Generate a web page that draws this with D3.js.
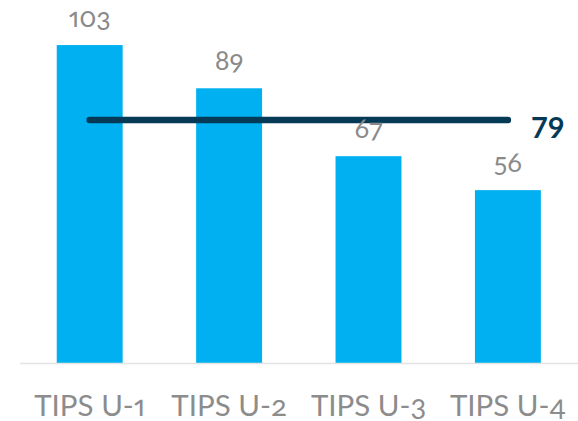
<!DOCTYPE html>
<html>
<head>
<meta charset="utf-8">
<script src="https://cdn.jsdelivr.net/npm/d3@7"></script>
<style>
  html, body { margin: 0; padding: 0; background: #fff; }
  svg { display: block; }
  text { font-family: Lato, "Open Sans", sans-serif; font-variant-numeric: oldstyle-nums proportional-nums; font-feature-settings: "onum" 1, "pnum" 1; }
</style>
</head>
<body>
<svg id="chart" width="578" height="421"></svg>
<script>
const categories = ["TIPS U-1", "TIPS U-2", "TIPS U-3", "TIPS U-4"];
const values = [103, 89, 67, 56];
const averageValue = 78.75;
const averageLabel = "79";

const W = 578, H = 421;
const svg = d3.select("#chart");

const x = d3.scaleBand()
  .domain(categories)
  .range([20, 577.6])
  .paddingInner(0.527)
  .paddingOuter(0.2635);

const y = d3.scaleLinear()
  .domain([0, 117.6])
  .range([363, 0]);

// bars
svg.selectAll("rect.bar")
  .data(values)
  .enter().append("rect")
  .attr("class", "bar")
  .attr("x", (d, i) => x(categories[i]))
  .attr("y", d => y(d))
  .attr("width", x.bandwidth())
  .attr("height", d => y(0) - y(d))
  .attr("fill", "#00b0f0");

// baseline axis
const xAxis = d3.axisBottom(x).tickSize(0).tickPadding(32);
const gx = svg.append("g")
  .attr("transform", `translate(0,${y(0)})`)
  .call(xAxis);
gx.select(".domain").attr("d", `M20,0.5H578`).attr("stroke", "#e3e3e3").attr("stroke-width", 1.5);
gx.selectAll(".tick text")
  .attr("fill", "#8c8c8c")
  .style("font-size", "29.5px")
  .attr("dy", "0.71em");

// average line
const x0 = x(categories[0]) + x.bandwidth() / 2;
const x1 = x(categories[categories.length - 1]) + x.bandwidth() / 2;
svg.append("line")
  .attr("x1", x0).attr("x2", x1)
  .attr("y1", y(averageValue)).attr("y2", y(averageValue))
  .attr("stroke", "#043a55")
  .attr("stroke-width", 6.5)
  .attr("stroke-linecap", "round");

svg.append("text")
  .attr("x", 531)
  .attr("y", 138)
  .attr("fill", "#043a55")
  .style("font-size", "29px")
  .style("font-weight", "bold")
  .style("font-variant-numeric", "lining-nums")
  .style("font-feature-settings", "normal")
  .text(averageLabel);

// value labels (drawn above the line)
svg.selectAll("text.val")
  .data(values)
  .enter().append("text")
  .attr("class", "val")
  .attr("x", (d, i) => x(categories[i]) + x.bandwidth() / 2)
  .attr("y", d => y(d) - 18)
  .attr("text-anchor", "middle")
  .attr("fill", "#8a8a8a")
  .style("font-size", "27px")
  .style("font-variant-numeric", "oldstyle-nums proportional-nums")
  .style("font-feature-settings", '"onum" 1, "pnum" 1')
  .text(d => String(d));
</script>
</body>
</html>
